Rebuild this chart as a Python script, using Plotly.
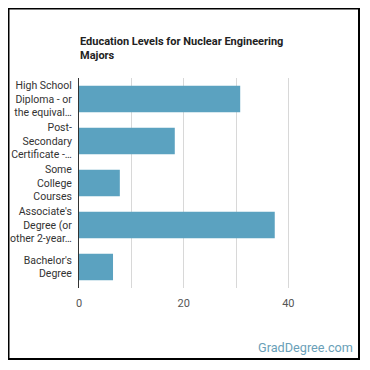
import plotly.graph_objects as go

categories = [
    "High School<br>Diploma - or<br>the equival…",
    "Post-<br>Secondary<br>Certificate -…",
    "Some<br>College<br>Courses",
    "Associate's<br>Degree (or<br>other 2-year…",
    "Bachelor's<br>Degree",
]
values = [30.8, 18.3, 7.8, 37.4, 6.5]
tick_vals = [0, 10, 20, 30, 40]
tick_text = ["0", "", "20", "", "40"]

# page body has an 8px margin, so figure coordinates are reference minus 8
OFF = 8
W, H = 362, 362
L, T, B, R = 79 - OFF, 78 - OFF, 82, 45
pw, ph = W - L - R, H - T - B

def px_x(p):
    return (p - OFF - L) / pw

def px_y(p):
    return 1 - (p - OFF - T) / ph

fig = go.Figure(go.Bar(
    y=categories, x=values, orientation="h",
    marker=dict(color="#5ba2c0", line=dict(width=0)),
    hoverinfo="x+y",
))

fig.update_layout(
    width=W, height=H,
    margin=dict(l=L, r=R, t=T, b=B, autoexpand=False),
    paper_bgcolor="white", plot_bgcolor="white",
    font=dict(family="Roboto", color="#333"),
    showlegend=False,
    bargap=0.365,
    xaxis=dict(range=[0, 47], tickvals=tick_vals, ticktext=tick_text,
               showgrid=True, gridcolor="#d8d8d8", gridwidth=1,
               zeroline=False, showline=False, ticks="", ticklabelstandoff=7,
               tickfont=dict(size=11, color="#555"), fixedrange=True),
    yaxis=dict(autorange="reversed", showline=True, linecolor="#333", linewidth=1,
               ticks="", ticklabelstandoff=4,
               tickfont=dict(size=10.5, color="#333"), fixedrange=True),
    shapes=[dict(type="rect", xref="paper", yref="paper",
                 x0=px_x(8.5), x1=px_x(359), y0=px_y(359), y1=px_y(8.5),
                 line=dict(color="black", width=2), layer="above")],
    annotations=[
        dict(text="<b>Education Levels for Nuclear Engineering<br>Majors</b>",
             xref="paper", yref="paper", align="left",
             x=px_x(78), y=px_y(48), xanchor="left", yanchor="middle", showarrow=False,
             font=dict(size=11, color="#222")),
        dict(text="GradDegree.com", xref="paper", yref="paper",
             x=px_x(355), y=px_y(347.5), xanchor="right", yanchor="middle", showarrow=False,
             font=dict(size=12.7, color="#6a9fb8")),
    ],
)

fig.write_html("out.html")
